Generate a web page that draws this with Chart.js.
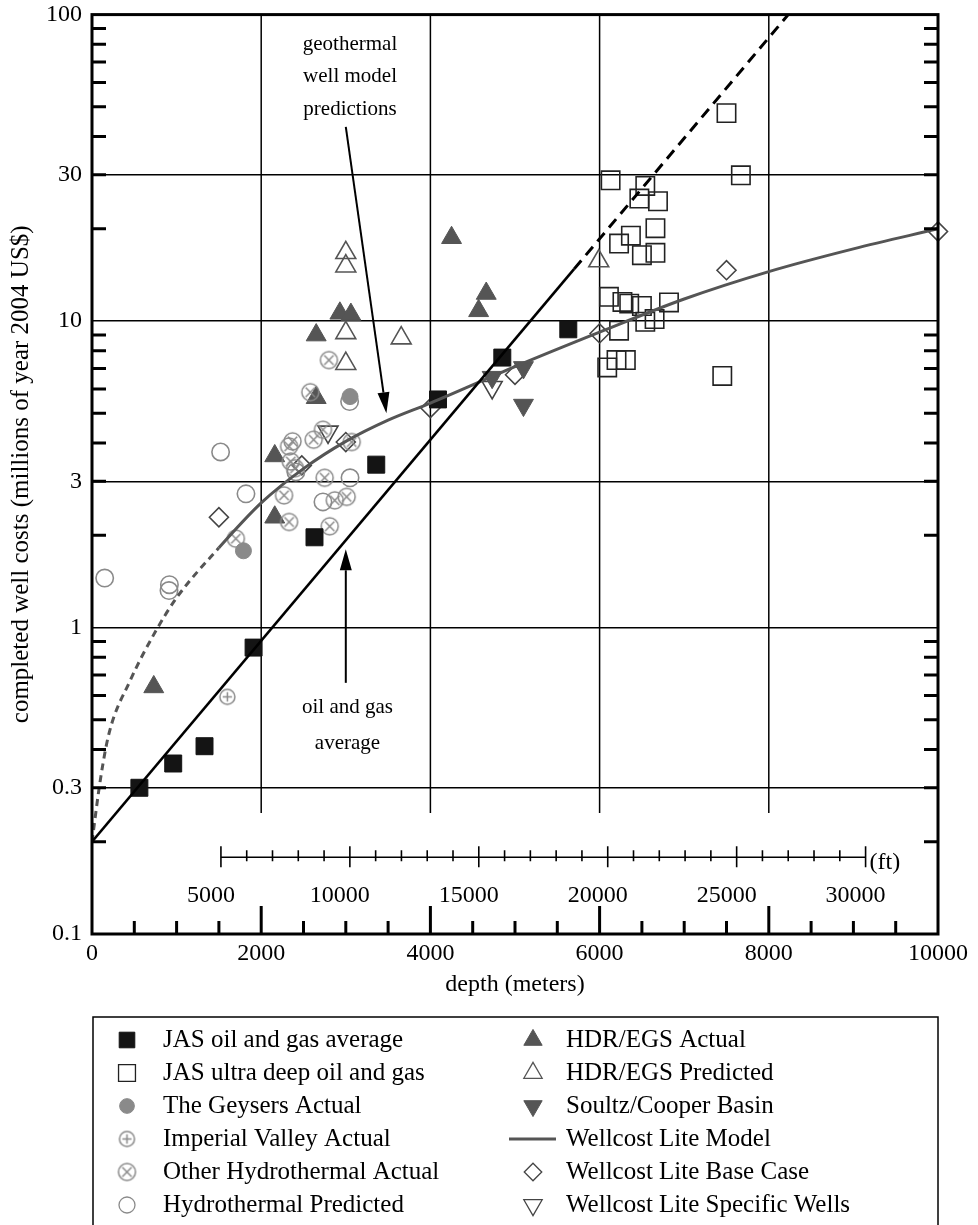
<!DOCTYPE html>
<html>
<head>
<meta charset="utf-8">
<title>Completed well costs vs depth</title>
<script src="https://cdn.jsdelivr.net/npm/chart.js@4.4.0/dist/chart.umd.min.js"></script>
<style>
  html, body { margin: 0; padding: 0; background: #fff; }
  canvas { display: block; }
</style>
</head>
<body>
<canvas id="chart" width="978" height="1225"></canvas>
<script>
const FONT = '"Liberation Serif", "Times New Roman", serif';

// depth in meters, cost in millions of year-2004 US$
const jasAvgDepth = [560, 960, 1330, 1910, 2630, 3360, 4090, 4850, 5630];
const jasAvgCost  = [0.30, 0.36, 0.41, 0.86, 1.97, 3.4, 5.55, 7.6, 9.4];

const jasDeepDepth = [7500, 7670, 6130, 6540, 6470, 6690, 6660, 6370, 6230, 6500, 6660, 6110,
                      6270, 6350, 6500, 6820, 6540, 6650, 6230, 6200, 6310, 6090, 7450];
const jasDeepCost  = [47.7, 29.9, 28.8, 27.6, 25.1, 24.6, 20.1, 19.0, 17.9, 16.4, 16.7, 12.0,
                      11.55, 11.4, 11.2, 11.5, 9.95, 10.15, 9.3, 7.46, 7.46, 7.06, 6.62];

const geysersDepth = [3050, 1790];
const geysersCost  = [5.67, 1.78];

const imperialDepth = [1600];
const imperialCost  = [0.594];

const otherHydroDepth = [2800, 2580, 2730, 2370, 2330, 2620, 3070, 2350, 2400, 2750, 2270, 2870, 3010, 2330, 2810, 1700];
const otherHydroCost  = [7.46, 5.86, 4.42, 4.05, 3.90, 4.10, 4.03, 3.48, 3.31, 3.08, 2.70, 2.60, 2.67, 2.21, 2.14, 1.95];

const hydroPredDepth = [150, 915, 910, 1520, 1820, 3045, 3050, 2730, 2410];
const hydroPredCost  = [1.45, 1.38, 1.32, 3.74, 2.73, 5.46, 3.08, 2.57, 3.22];

const hdrActualDepth = [730, 2160, 2160, 2650, 2650, 2930, 3060, 4250, 4660, 4570];
const hdrActualCost  = [0.64, 3.63, 2.29, 5.62, 9.0, 10.6, 10.5, 18.7, 12.3, 10.8];

const hdrPredDepth = [3000, 3000, 3000, 3000, 3655, 5990];
const hdrPredCost  = [16.7, 15.1, 9.15, 7.26, 8.8, 15.7];

const soultzDepth = [5100, 4730, 5100];
const soultzCost  = [7.06, 6.56, 5.32];

const baseCaseDepth = [1500, 2480, 3000, 4000, 5000, 6000, 7500, 10000];
const baseCaseCost  = [2.29, 3.38, 4.03, 5.2, 6.68, 9.11, 14.65, 19.6];

const specificDepth = [2790, 4730];
const specificCost  = [4.35, 6.08];

// Wellcost Lite model curve (dashed below ~1500 m)
const modelDepth = [0, 100, 200, 450, 750, 1000, 1500, 2000, 2500, 3000, 3500, 4000, 5000, 6000, 7000, 8000, 9000, 10000];
const modelCost  = [0.2, 0.32, 0.45, 0.67, 0.97, 1.25, 1.82, 2.55, 3.3, 4.05, 4.75, 5.4, 7.1, 9.2, 11.8, 14.5, 17.2, 20.0];
const modelDashEnd = 1500;

// oil and gas average trend, solid part then dashed extrapolation
const fitSolidDepth = [0, 5700];
const fitSolidCost  = [0.2, 14.8];
const fitDashDepth  = [5700, 8230];
const fitDashCost   = [14.8, 100];

// axes
const xTicks = [0, 2000, 4000, 6000, 8000, 10000];
const xGridLines = [2000, 4000, 6000, 8000];
const yTicks = [0.1, 0.3, 1, 3, 10, 30, 100];
const ftTicks = [5000, 10000, 15000, 20000, 25000, 30000];
const FT_TO_M = 0.3048;

const yMinorTicks = [];
[0.1, 1, 10].forEach(d => { for (let k = 2; k <= 9; k++) yMinorTicks.push(+(d * k).toFixed(2)); });
const xMinorTicks = [];
for (let m = 500; m < 10000; m += 500) xMinorTicks.push(m);
const ftMinorTicks = [];
for (let f = 5000; f <= 30000; f += 1000) ftMinorTicks.push(f);

const pts = (xs, ys) => xs.map((x, i) => ({ x, y: ys[i] }));

// ring markers with a plus or a cross inside
function ringMarker(kind, color, r) {
  const s = Math.ceil(2 * r + 4);
  const c = document.createElement('canvas');
  c.width = s; c.height = s;
  const g = c.getContext('2d');
  const m = s / 2;
  g.strokeStyle = color;
  g.lineWidth = 1.5;
  g.beginPath(); g.arc(m, m, r, 0, Math.PI * 2); g.stroke();
  g.beginPath();
  if (kind === 'plus') {
    const d = r * 0.62;
    g.moveTo(m, m - d); g.lineTo(m, m + d);
    g.moveTo(m - d, m); g.lineTo(m + d, m);
  } else {
    const d = r * 0.55;
    g.moveTo(m - d, m - d); g.lineTo(m + d, m + d);
    g.moveTo(m + d, m - d); g.lineTo(m - d, m + d);
  }
  g.stroke();
  return c;
}

const ringPlus = ringMarker('plus', '#8a8a8a', 7.5);
const ringCross = ringMarker('cross', '#8a8a8a', 8.5);
const CLEAR = 'rgba(0,0,0,0)';

const lineSets = [
  {
    label: 'oil and gas average', data: pts(fitSolidDepth, fitSolidCost),
    showLine: true, borderColor: '#000', borderWidth: 2.6, pointRadius: 0, order: 0
  },
  {
    label: 'oil and gas extrapolation', data: pts(fitDashDepth, fitDashCost),
    showLine: true, borderColor: '#000', borderWidth: 3, borderDash: [11, 7], pointRadius: 0, order: 0
  },
  {
    label: 'Wellcost Lite Model', data: pts(modelDepth, modelCost),
    showLine: true, borderColor: '#555', borderWidth: 3, pointRadius: 0, order: 0,
    cubicInterpolationMode: 'monotone',
    segment: { borderDash: c => (c.p1.parsed.x <= modelDashEnd ? [7, 5] : undefined) }
  }
];

const markerSets = [
  { label: 'JAS oil and gas average', data: pts(jasAvgDepth, jasAvgCost),
    pointStyle: 'rect', pointRadius: 12, pointBackgroundColor: '#141414', pointBorderColor: '#141414', pointBorderWidth: 1 },
  { label: 'JAS ultra deep oil and gas', data: pts(jasDeepDepth, jasDeepCost),
    pointStyle: 'rect', pointRadius: 13, pointBackgroundColor: CLEAR, pointBorderColor: '#222', pointBorderWidth: 1.6 },
  { label: 'The Geysers Actual', data: pts(geysersDepth, geysersCost),
    pointStyle: 'circle', pointRadius: 8, pointBackgroundColor: '#8a8a8a', pointBorderColor: '#8a8a8a', pointBorderWidth: 1 },
  { label: 'Imperial Valley Actual', data: pts(imperialDepth, imperialCost),
    pointStyle: ringPlus, pointRadius: 8 },
  { label: 'Other Hydrothermal Actual', data: pts(otherHydroDepth, otherHydroCost),
    pointStyle: ringCross, pointRadius: 8.5 },
  { label: 'Hydrothermal Predicted', data: pts(hydroPredDepth, hydroPredCost),
    pointStyle: 'circle', pointRadius: 8.7, pointBackgroundColor: CLEAR, pointBorderColor: '#8a8a8a', pointBorderWidth: 1.6 },
  { label: 'HDR/EGS Actual', data: pts(hdrActualDepth, hdrActualCost),
    pointStyle: 'triangle', pointRadius: 11.5, pointBackgroundColor: '#555', pointBorderColor: '#555', pointBorderWidth: 1 },
  { label: 'HDR/EGS Predicted', data: pts(hdrPredDepth, hdrPredCost),
    pointStyle: 'triangle', pointRadius: 11.5, pointBackgroundColor: CLEAR, pointBorderColor: '#555', pointBorderWidth: 1.6 },
  { label: 'Soultz/Cooper Basin', data: pts(soultzDepth, soultzCost),
    pointStyle: 'triangle', pointRotation: 180, pointRadius: 11.5, pointBackgroundColor: '#555', pointBorderColor: '#555', pointBorderWidth: 1 },
  { label: 'Wellcost Lite Base Case', data: pts(baseCaseDepth, baseCaseCost), clip: false,
    pointStyle: 'rectRot', pointRadius: 9.5, pointBackgroundColor: CLEAR, pointBorderColor: '#444', pointBorderWidth: 1.6 },
  { label: 'Wellcost Lite Specific Wells', data: pts(specificDepth, specificCost),
    pointStyle: 'triangle', pointRotation: 180, pointRadius: 11.5, pointBackgroundColor: CLEAR, pointBorderColor: '#444', pointBorderWidth: 1.6 }
].map(d => Object.assign({ order: 1 }, d));

// legend layout: two columns, top to bottom
const legendLeft = ['JAS oil and gas average', 'JAS ultra deep oil and gas', 'The Geysers Actual',
                    'Imperial Valley Actual', 'Other Hydrothermal Actual', 'Hydrothermal Predicted'];
const legendRight = ['HDR/EGS Actual', 'HDR/EGS Predicted', 'Soultz/Cooper Basin',
                     'Wellcost Lite Model', 'Wellcost Lite Base Case', 'Wellcost Lite Specific Wells'];

function drawArrow(ctx, x0, y0, x1, y1) {
  const a = Math.atan2(y1 - y0, x1 - x0);
  const L = 21, W = 6;
  const bx = x1 - L * Math.cos(a), by = y1 - L * Math.sin(a);
  ctx.beginPath();
  ctx.moveTo(x0, y0); ctx.lineTo(bx, by);
  ctx.stroke();
  ctx.beginPath();
  ctx.moveTo(x1, y1);
  ctx.lineTo(bx + W * Math.sin(a), by - W * Math.cos(a));
  ctx.lineTo(bx - W * Math.sin(a), by + W * Math.cos(a));
  ctx.closePath();
  ctx.fill();
}

const decorations = {
  id: 'decorations',
  beforeDatasetsDraw(chart) {
    const { ctx, chartArea: a, scales: { x, y } } = chart;
    ctx.save();
    // vertical grid lines stop above the feet scale
    const gridEnd = y.getPixelForValue(0.248);
    ctx.strokeStyle = '#000';
    ctx.lineWidth = 1.5;
    xGridLines.forEach(v => {
      const px = x.getPixelForValue(v);
      ctx.beginPath(); ctx.moveTo(px, a.top); ctx.lineTo(px, gridEnd); ctx.stroke();
    });
    ctx.restore();
  },
  afterDatasetsDraw(chart) {
    const { ctx, chartArea: a, scales: { x, y } } = chart;
    ctx.save();
    ctx.strokeStyle = '#000';
    ctx.fillStyle = '#000';

    // frame
    ctx.lineWidth = 3;
    ctx.strokeRect(a.left, a.top, a.right - a.left, a.bottom - a.top);

    // minor ticks on both vertical edges
    yMinorTicks.forEach(v => {
      const py = y.getPixelForValue(v);
      ctx.beginPath();
      ctx.moveTo(a.left, py); ctx.lineTo(a.left + 14, py);
      ctx.moveTo(a.right, py); ctx.lineTo(a.right - 14, py);
      ctx.stroke();
    });
    // ticks along the depth axis
    xMinorTicks.forEach(v => {
      const px = x.getPixelForValue(v);
      const len = v % 2000 === 0 ? 28 : 13;
      ctx.beginPath(); ctx.moveTo(px, a.bottom); ctx.lineTo(px, a.bottom - len); ctx.stroke();
    });

    // feet scale
    const fy = y.getPixelForValue(0.178);
    const f0 = x.getPixelForValue(ftTicks[0] * FT_TO_M);
    const f1 = x.getPixelForValue(ftTicks[ftTicks.length - 1] * FT_TO_M);
    ctx.lineWidth = 1.6;
    ctx.beginPath(); ctx.moveTo(f0, fy); ctx.lineTo(f1, fy); ctx.stroke();
    ftMinorTicks.forEach(f => {
      const px = x.getPixelForValue(f * FT_TO_M);
      const major = f % 5000 === 0;
      ctx.beginPath();
      ctx.moveTo(px, fy - (major ? 11 : 7));
      ctx.lineTo(px, fy + (major ? 10 : 4));
      ctx.stroke();
    });
    ctx.font = '24px ' + FONT;
    ctx.textAlign = 'center';
    ctx.textBaseline = 'middle';
    ftTicks.forEach(f => {
      ctx.fillText(String(f), x.getPixelForValue(f * FT_TO_M) - 10, fy + 38);
    });
    ctx.textAlign = 'left';
    ctx.fillText('(ft)', f1 + 4, fy + 5);

    // annotations
    ctx.font = '21px ' + FONT;
    ctx.textAlign = 'center';
    const gx = x.getPixelForValue(3050);
    const gy = y.getPixelForValue(80);
    ['geothermal', 'well model', 'predictions'].forEach((t, i) => ctx.fillText(t, gx, gy + i * 32.5));
    ctx.lineWidth = 2;
    drawArrow(ctx, x.getPixelForValue(3000), y.getPixelForValue(43),
              x.getPixelForValue(3480), y.getPixelForValue(5.0));

    const ox = x.getPixelForValue(3020);
    const oy = y.getPixelForValue(0.548);
    ctx.fillText('oil and gas', ox, oy);
    ctx.fillText('average', ox, oy + 36);
    drawArrow(ctx, x.getPixelForValue(3000), y.getPixelForValue(0.66),
              x.getPixelForValue(3000), y.getPixelForValue(1.8));
    ctx.restore();
  },
  afterDraw(chart) {
    const { ctx, chartArea: a } = chart;
    const sets = chart.data.datasets;
    const find = label => sets.find(d => d.label === label);
    ctx.save();
    const top = 1017;
    ctx.strokeStyle = '#000';
    ctx.lineWidth = 1.5;
    ctx.strokeRect(a.left + 1, top, a.right - a.left - 1, chart.height - top + 10);

    ctx.font = '25px ' + FONT;
    ctx.textBaseline = 'middle';
    ctx.textAlign = 'left';
    const rowY = i => top + 23 + i * 33;

    const drawEntry = (label, mx, tx, py) => {
      const d = find(label);
      if (label === 'Wellcost Lite Model') {
        ctx.strokeStyle = d.borderColor;
        ctx.lineWidth = 3;
        ctx.setLineDash([]);
        ctx.beginPath(); ctx.moveTo(mx - 24, py); ctx.lineTo(mx + 23, py); ctx.stroke();
      } else {
        ctx.fillStyle = d.pointBackgroundColor || CLEAR;
        ctx.strokeStyle = d.pointBorderColor || '#000';
        ctx.lineWidth = d.pointBorderWidth ? Math.min(d.pointBorderWidth, 1.3) : 1;
        Chart.helpers.drawPoint(ctx, {
          pointStyle: d.pointStyle,
          rotation: d.pointRotation || 0,
          radius: d.pointRadius * 0.92,
          borderWidth: d.pointBorderWidth || 0
        }, mx, py);
      }
      ctx.fillStyle = '#000';
      ctx.fillText(label, tx, py);
    };
    legendLeft.forEach((l, i) => drawEntry(l, 127, 163, rowY(i)));
    legendRight.forEach((l, i) => drawEntry(l, 533, 566, rowY(i)));
    ctx.restore();
  }
};

new Chart(document.getElementById('chart'), {
  type: 'scatter',
  data: { datasets: lineSets.concat(markerSets) },
  options: {
    responsive: false,
    devicePixelRatio: 1,
    animation: false,
    events: [],
    layout: { padding: { top: 12, right: 40, bottom: 226, left: 0 } },
    plugins: { legend: { display: false }, tooltip: { enabled: false } },
    scales: {
      x: {
        type: 'linear', min: 0, max: 10000,
        afterBuildTicks: s => { s.ticks = xTicks.map(v => ({ value: v })); },
        afterFit: s => { s.height = 65; },
        grid: { display: true, drawOnChartArea: false, drawTicks: true, tickLength: 8, tickColor: CLEAR, color: CLEAR },
        border: { display: false },
        ticks: { color: '#000', font: { family: FONT, size: 24, lineHeight: 1 }, padding: 0, maxRotation: 0, autoSkip: false,
                 callback: v => String(v) },
        title: { display: true, text: 'depth (meters)', color: '#000', font: { family: FONT, size: 24 }, padding: 0 }
      },
      y: {
        type: 'logarithmic', min: 0.1, max: 100,
        afterBuildTicks: s => { s.ticks = yTicks.map(v => ({ value: v })); },
        afterFit: s => { s.width = 92; },
        grid: { color: '#000', lineWidth: 1.5, drawTicks: true, tickLength: 10, tickColor: CLEAR },
        border: { display: false },
        ticks: { color: '#000', font: { family: FONT, size: 24, lineHeight: 1 }, padding: 0, autoSkip: false,
                 callback: v => String(v) },
        title: { display: true, text: 'completed well costs (millions of year 2004 US$)', color: '#000',
                 font: { family: FONT, size: 25, lineHeight: 1 }, padding: { top: 9, bottom: 0 } }
      }
    }
  },
  plugins: [decorations]
});
</script>
</body>
</html>
